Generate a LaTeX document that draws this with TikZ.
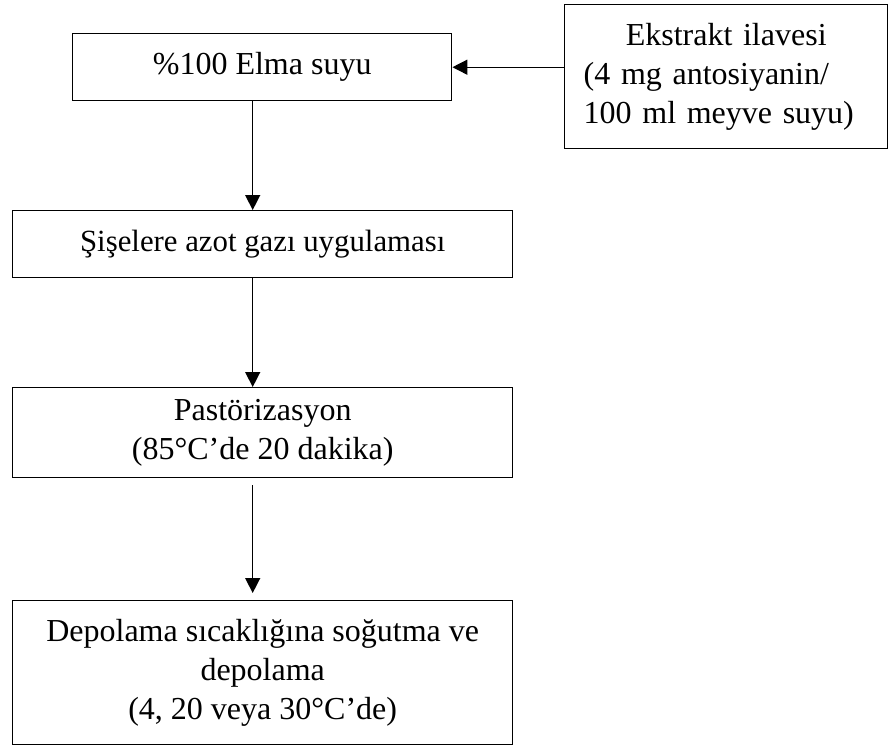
\documentclass[tikz,border=0pt]{standalone}
\usepackage{fontspec}
\setmainfont{Liberation Serif}
\usetikzlibrary{positioning, arrows.meta, calc}

\begin{document}
\begin{tikzpicture}[
    x=0.5pt, y=-0.5pt,      % 1単位 = 参照画像の1ピクセル（下向き）
    line width=0.7pt,       % 枠線の太さ
    >={Triangle[length=7.5pt, width=7.5pt]},  % 塗りつぶしの三角矢じり
    font=\fontsize{16}{19.5}\selectfont,      % 文字サイズを一括指定
    stepbox/.style={draw, anchor=north west, inner sep=0pt, align=center}
]

    % --- 0. 描画範囲（余白込み） ---
    \useasboundingbox (0, 0) rectangle (888, 745);

    % --- 1. 工程ボックスの配置 ---
    % 【原料】
    \node [stepbox, minimum width=189.5pt, minimum height=33.5pt] (elma) at (72, 33) {\%100 Elma suyu};

    % 【添加物】 1行目だけ中央揃え、残りは左寄せ
    \node [draw, anchor=north west, inner xsep=9.5pt, inner ysep=0pt,
           text width=142.5pt, align=left, minimum height=72pt] (ekstrakt) at (564, 4)
          {\makebox[142.5pt]{Ekstrakt ilavesi}\\(4 mg antosiyanin/\\100 ml meyve suyu)};

    % 【窒素ガス】 この行だけわずかに小さい文字
    \node [stepbox, minimum width=250pt, minimum height=33.5pt,
           font=\fontsize{15.4}{18.5}\selectfont] (azot) at (12, 210) {Şişelere azot gazı uygulaması};

    % 【殺菌】
    \node [stepbox, minimum width=250pt, minimum height=45pt] (pastor) at (12, 387)
          {Pastörizasyon\\(85°C’de 20 dakika)};

    % 【冷却・貯蔵】
    \node [stepbox, minimum width=250pt, minimum height=72pt] (depo) at (12, 600)
          {Depolama sıcaklığına soğutma ve\\depolama\\(4, 20 veya 30°C’de)};

    % --- 2. 矢印の描画 ---
    % 横向き：添加物 → 原料
    \draw [->] (ekstrakt.west |- elma.east) -- (elma.east);

    % 縦向き：中心より少し左を通す
    \draw [->] ([xshift=-4.75pt]elma.south) -- ([xshift=-4.75pt]elma.south |- azot.north);
    \draw [->] ([xshift=-5pt]azot.south) -- ([xshift=-5pt]pastor.north);
    \draw [->, shorten <=3.5pt, shorten >=3.5pt] ([xshift=-5pt]pastor.south) -- ([xshift=-5pt]depo.north);

\end{tikzpicture}
\end{document}
